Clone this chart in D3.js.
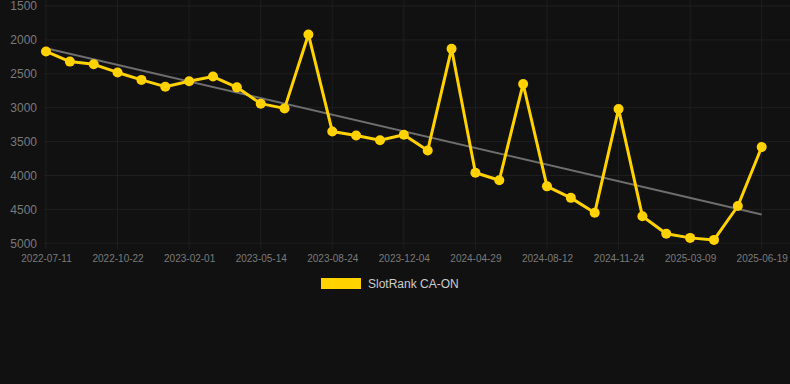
<!DOCTYPE html>
<html><head><meta charset="utf-8">
<script src="https://cdn.jsdelivr.net/npm/d3@7/dist/d3.min.js"></script>
<style>html,body{margin:0;padding:0;background:#111111;}svg{display:block;}</style>
</head><body>
<svg id="c" width="790" height="384"></svg>
<script>
const categories = ["2022-07-11","2022-08-15","2022-09-18","2022-10-22","2022-11-25","2022-12-29","2023-02-01","2023-03-08","2023-04-10","2023-05-14","2023-06-17","2023-07-21","2023-08-24","2023-09-27","2023-10-31","2023-12-04","2024-01-15","2024-03-10","2024-04-29","2024-06-03","2024-07-08","2024-08-12","2024-09-15","2024-10-20","2024-11-24","2024-12-28","2025-02-02","2025-03-09","2025-04-12","2025-05-16","2025-06-19"];
const seriesName = "SlotRank CA-ON";
const values = [2170,2320,2360,2480,2590,2690,2610,2540,2700,2940,3010,1920,3350,3410,3480,3400,3630,2130,3960,4070,2650,4160,4330,4550,3020,4600,4860,4920,4950,4450,3580];
const yTicks = [1500,2000,2500,3000,3500,4000,4500,5000];
const tickEvery = 3;

(function () {
const svg = d3.select("#c");
const mLeft = 46, mRight = 761.7, mTop = 6, mBottom = 243.3;
const x = d3.scalePoint().domain(categories).range([mLeft, mRight]);
const y = d3.scaleLinear().domain([1500, 5000]).range([mTop, mBottom]);

// grid
const gridColor = "#1f1f1f";
svg.append("g").selectAll("line").data(yTicks).join("line")
  .attr("x1", 44).attr("x2", 790).attr("y1", d => y(d)).attr("y2", d => y(d))
  .attr("stroke", gridColor).attr("stroke-width", 1);
const shownCats = categories.filter((d, i) => i % tickEvery === 0);
svg.append("g").selectAll("line").data(shownCats).join("line")
  .attr("x1", d => x(d)).attr("x2", d => x(d)).attr("y1", 0).attr("y2", mBottom + 6)
  .attr("stroke", gridColor).attr("stroke-width", 1);

// y axis labels
const yAxis = d3.axisLeft(y).tickValues(yTicks).tickSize(0).tickPadding(0).tickFormat(d3.format("d"));
const ga = svg.append("g").attr("transform", "translate(37,0)").call(yAxis);
ga.select(".domain").remove();
ga.selectAll("text").attr("fill", "#7a7a7a").attr("font-size", "12px").attr("font-family", "Arial, 'Liberation Sans', sans-serif");

// x axis labels
const xAxis = d3.axisBottom(x).tickValues(shownCats).tickSize(0).tickPadding(0);
const gx = svg.append("g").attr("transform", `translate(0,${mBottom + 12})`).call(xAxis);
gx.select(".domain").remove();
gx.selectAll("text").attr("fill", "#7a7a7a").attr("font-size", "10px").attr("font-family", "Arial, 'Liberation Sans', sans-serif").attr("dy", "0.71em");

// trend line (least squares)
const n = values.length;
const idx = d3.range(n);
const mx = d3.mean(idx), my = d3.mean(values);
const slope = d3.sum(idx, i => (i - mx) * (values[i] - my)) / d3.sum(idx, i => (i - mx) * (i - mx));
const intercept = my - slope * mx;
svg.append("line")
  .attr("x1", x(categories[0])).attr("y1", y(intercept))
  .attr("x2", x(categories[n - 1])).attr("y2", y(intercept + slope * (n - 1)))
  .attr("stroke", "#6e6e6e").attr("stroke-width", 2);

// series line
const color = "#FFD200";
const line = d3.line().x((d, i) => x(categories[i])).y(d => y(d));
svg.append("path").datum(values).attr("d", line)
  .attr("fill", "none").attr("stroke", color).attr("stroke-width", 3).attr("stroke-linejoin", "round");
svg.append("g").selectAll("circle").data(values).join("circle")
  .attr("cx", (d, i) => x(categories[i])).attr("cy", d => y(d)).attr("r", 5)
  .attr("fill", color);

// legend
svg.append("rect").attr("x", 321).attr("y", 278).attr("width", 40).attr("height", 11).attr("fill", color);
svg.append("text").attr("x", 368).attr("y", 288).text(seriesName)
  .attr("fill", "#cccccc").attr("font-size", "12px").attr("font-family", "Arial, 'Liberation Sans', sans-serif");
})();
</script>
</body></html>
